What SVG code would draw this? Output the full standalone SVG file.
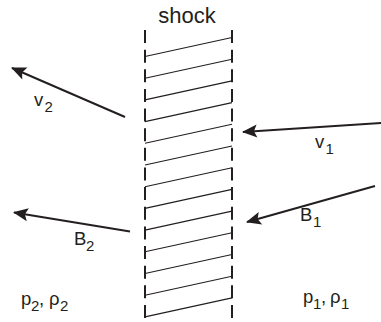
<svg xmlns="http://www.w3.org/2000/svg" width="381" height="322" viewBox="0 0 381 322">
<style>
.t{font-family:"Liberation Sans",Arial,sans-serif;font-size:18.5px;fill:#231f20}
.s{font-size:15px}
.dash{stroke:#231f20;stroke-width:2;stroke-dasharray:13 6.64;fill:none}
.hatch{stroke:#231f20;stroke-width:1.1;fill:none}
.arr{stroke:#231f20;stroke-width:2;fill:none;marker-end:url(#ah)}
</style>
<defs>
<marker id="ah" markerUnits="userSpaceOnUse" markerWidth="20" markerHeight="16" viewBox="-16 -8 18 16" refX="0" refY="0" orient="auto">
<path d="M1,0 L-14,-6.5 L-11,0 L-14,6.5 Z" fill="#231f20"/>
</marker>
</defs>
<g id="shock">
<text class="t" x="187" y="23" text-anchor="middle" style="font-size:22px">shock</text>
<line class="dash" x1="145" y1="30" x2="145" y2="318"/>
<line class="dash" x1="232" y1="30" x2="232" y2="318"/>
<g class="hatch">
<line x1="145" y1="56.5" x2="232" y2="37.5"/>
<line x1="145" y1="78.2" x2="232" y2="59.2"/>
<line x1="145" y1="99.9" x2="232" y2="80.9"/>
<line x1="145" y1="121.6" x2="232" y2="102.6"/>
<line x1="145" y1="143.3" x2="232" y2="124.3"/>
<line x1="145" y1="165" x2="232" y2="146"/>
<line x1="145" y1="186.7" x2="232" y2="167.7"/>
<line x1="145" y1="208.4" x2="232" y2="189.4"/>
<line x1="145" y1="230.1" x2="232" y2="211.1"/>
<line x1="145" y1="251.8" x2="232" y2="232.8"/>
<line x1="145" y1="273.5" x2="232" y2="254.5"/>
<line x1="145" y1="295.2" x2="232" y2="276.2"/>
<line x1="145" y1="316.9" x2="232" y2="297.9"/>
</g>
</g>
<g id="connectors">
<line class="arr" x1="125" y1="117" x2="12" y2="68"/>
<line class="arr" x1="381" y1="123" x2="243" y2="132"/>
<line class="arr" x1="375" y1="186" x2="247" y2="222"/>
<line class="arr" x1="130" y1="231.5" x2="14" y2="212.5"/>
</g>
<g id="v2"><text class="t" x="34" y="106">v<tspan class="s" x="44.5" y="112">2</tspan></text></g>
<g id="v1"><text class="t" x="315" y="148">v<tspan class="s" x="325.5" y="154">1</tspan></text></g>
<g id="B1"><text class="t" x="300" y="221">B<tspan class="s" x="313" y="227">1</tspan></text></g>
<g id="B2"><text class="t" x="74" y="245">B<tspan class="s" x="86" y="251">2</tspan></text></g>
<g id="state2"><text class="t" x="21" y="305">p<tspan class="s" x="31" y="311">2</tspan><tspan x="39" y="305">,</tspan><tspan x="49" y="305">ρ</tspan><tspan class="s" x="60" y="311">2</tspan></text></g>
<g id="state1"><text class="t" x="303" y="303">p<tspan class="s" x="313" y="309">1</tspan><tspan x="321" y="303">,</tspan><tspan x="330" y="303">ρ</tspan><tspan class="s" x="341" y="309">1</tspan></text></g>
</svg>
